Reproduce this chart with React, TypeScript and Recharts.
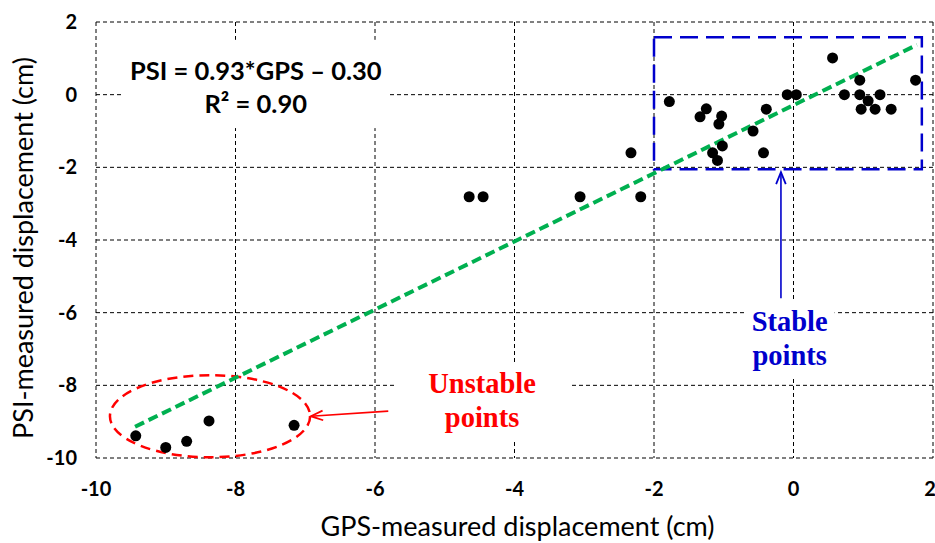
import {
  ScatterChart,
  Scatter,
  XAxis,
  YAxis,
  CartesianGrid,
  ReferenceLine,
  ReferenceArea,
} from 'recharts';

// GPS (x) vs PSI (y) displacement, cm
const gps = [
  -2.33, -1.78, -1.25, -1.34, -1.03, -1.07, -1.02, -1.16, -1.09, -0.58, -0.39, -0.43,
  -0.09, 0.04, 0.56, 0.73, 0.95, 0.95, 1.07, 0.97, 1.17, 1.24, 1.4, 1.75,
  -4.65, -4.45, -3.06, -2.19,
  -9.43, -9.0, -8.7, -8.38, -7.16,
];
const psi = [
  -1.6, -0.19, -0.39, -0.61, -0.59, -0.81, -1.41, -1.6, -1.81, -1.0, -0.4, -1.6,
  0, 0, 1.01, 0, 0.4, 0, -0.17, -0.4, -0.4, 0, -0.4, 0.4,
  -2.81, -2.81, -2.81, -2.81,
  -9.39, -9.71, -9.54, -8.98, -9.1,
];

// regression line ends
const trendX = [-9.44, 1.77];
const trendY = [-9.14, 1.37];

const axisTicks = [-10, -8, -6, -4, -2, 0, 2];

const equationLines = ['PSI = 0.93*GPS \u2013 0.30', 'R\u00b2 = 0.90'];
const unstableLines = ['Unstable', 'points'];
const stableLines = ['Stable', 'points'];

const data = gps.map((x, i) => ({ x, y: psi[i] }));

const SANS = 'Lato, "Open Sans", sans-serif';
const SERIF = '"Liberation Serif", "Times New Roman", serif';

const Dot = (props: any) => <circle cx={props.cx} cy={props.cy} r={5.5} fill="#000" />;

const textBox =
  (lines: string[], color: string, font: string, size: number, weight: string, dy: number, gap: number) =>
  (props: any) => {
    const { x, y, width, height } = props;
    const cx = x + width / 2;
    const cy = y + height / 2;
    return (
      <g>
        <rect x={x} y={y} width={width} height={height} fill="#fff" />
        {lines.map((t, i) => (
          <text
            key={i}
            x={cx}
            y={cy + dy + i * gap}
            textAnchor="middle"
            fill={color}
            fontFamily={font}
            fontSize={size}
            fontWeight={weight}
          >
            {t}
          </text>
        ))}
      </g>
    );
  };

const EllipseShape = (props: any) => {
  const { x, y, width, height } = props;
  return (
    <ellipse
      cx={x + width / 2}
      cy={y + height / 2}
      rx={width / 2}
      ry={height / 2}
      fill="none"
      stroke="#FF0000"
      strokeWidth={2.5}
      strokeDasharray="10 6"
    />
  );
};

const arrow = (color: string) => (props: any) => {
  const { x1, y1, x2, y2 } = props;
  const a = Math.atan2(y2 - y1, x2 - x1);
  const len = 13;
  const spread = 0.38;
  const p1 = [x2 - len * Math.cos(a - spread), y2 - len * Math.sin(a - spread)];
  const p2 = [x2 - len * Math.cos(a + spread), y2 - len * Math.sin(a + spread)];
  return (
    <g>
      <line x1={x1} y1={y1} x2={x2} y2={y2} stroke={color} strokeWidth={1.6} />
      <polyline
        points={`${p1[0]},${p1[1]} ${x2},${y2} ${p2[0]},${p2[1]}`}
        fill="none"
        stroke={color}
        strokeWidth={1.8}
      />
    </g>
  );
};

const XTitle = (props: any) => {
  const { viewBox } = props;
  return (
    <text x={viewBox.x + viewBox.width / 2 + 3} y={536} textAnchor="middle" fontFamily={SANS} fontSize={27} fill="#000">
      GPS-measured displacement (cm)
    </text>
  );
};

const YTitle = (props: any) => {
  const { viewBox } = props;
  const cy = viewBox.y + viewBox.height / 2 + 8;
  return (
    <text
      x={22}
      y={cy}
      transform={`rotate(-90 22 ${cy})`}
      textAnchor="middle"
      dominantBaseline="central"
      fontFamily={SANS}
      fontSize={27}
      fill="#000"
    >
      PSI-measured  displacement (cm)
    </text>
  );
};

const tickStyle = { fill: '#000', fontSize: 20, fontWeight: 700, fontFamily: SANS };

export default function App() {
  return (
    <div style={{ position: 'absolute', left: 0, top: 0, background: '#fff' }}>
      <ScatterChart width={935} height={543} margin={{ top: 22, right: 2, bottom: 0, left: 0 }}>
        <CartesianGrid stroke="#000" strokeDasharray="4 3" strokeWidth={1} />
        <XAxis
          type="number"
          dataKey="x"
          domain={[-10, 2]}
          ticks={axisTicks}
          allowDataOverflow
          height={85}
          axisLine={false}
          tickLine={false}
          tickSize={0}
          tickMargin={24}
          tick={tickStyle}
          label={<XTitle />}
        />
        <YAxis
          type="number"
          dataKey="y"
          domain={[-10, 2]}
          ticks={axisTicks}
          allowDataOverflow
          width={96}
          axisLine={false}
          tickLine={false}
          tickSize={0}
          tickMargin={19}
          tick={tickStyle}
          label={<YTitle />}
        />

        {/* equation box */}
        <ReferenceArea
          x1={-9.63}
          x2={-5.79}
          y1={-0.92}
          y2={1.51}
          shape={textBox(equationLines, '#000', SANS, 25.5, '700', -4, 33)}
        />

        {/* stable points box */}
        <ReferenceArea
          x1={-2}
          x2={1.84}
          y1={-2.05}
          y2={1.58}
          fill="none"
          stroke="#0000CC"
          strokeWidth={2.5}
          strokeDasharray="18 8"
        />

        {/* unstable points ellipse */}
        <ReferenceArea x1={-9.8} x2={-6.93} y1={-9.98} y2={-7.72} shape={EllipseShape} />

        <ReferenceArea
          x1={-5.72}
          x2={-3.21}
          y1={-9.5}
          y2={-7.36}
          shape={textBox(unstableLines, '#FF0000', SERIF, 28.5, '700', -8, 34)}
        />
        <ReferenceArea
          x1={-0.7}
          x2={0.59}
          y1={-7.8}
          y2={-5.65}
          shape={textBox(stableLines, '#0000CC', SERIF, 28.5, '700', -8, 34)}
        />

        <ReferenceLine
          segment={[
            { x: trendX[0], y: trendY[0] },
            { x: trendX[1], y: trendY[1] },
          ]}
          stroke="#00B050"
          strokeWidth={4}
          strokeDasharray="10 5"
        />

        <ReferenceLine
          segment={[
            { x: -5.81, y: -8.71 },
            { x: -6.92, y: -8.85 },
          ]}
          shape={arrow('#FF0000')}
        />
        <ReferenceLine
          segment={[
            { x: -0.18, y: -5.6 },
            { x: -0.18, y: -2.13 },
          ]}
          shape={arrow('#0000CC')}
        />

        <Scatter data={data} shape={Dot} isAnimationActive={false} />
      </ScatterChart>
    </div>
  );
}
